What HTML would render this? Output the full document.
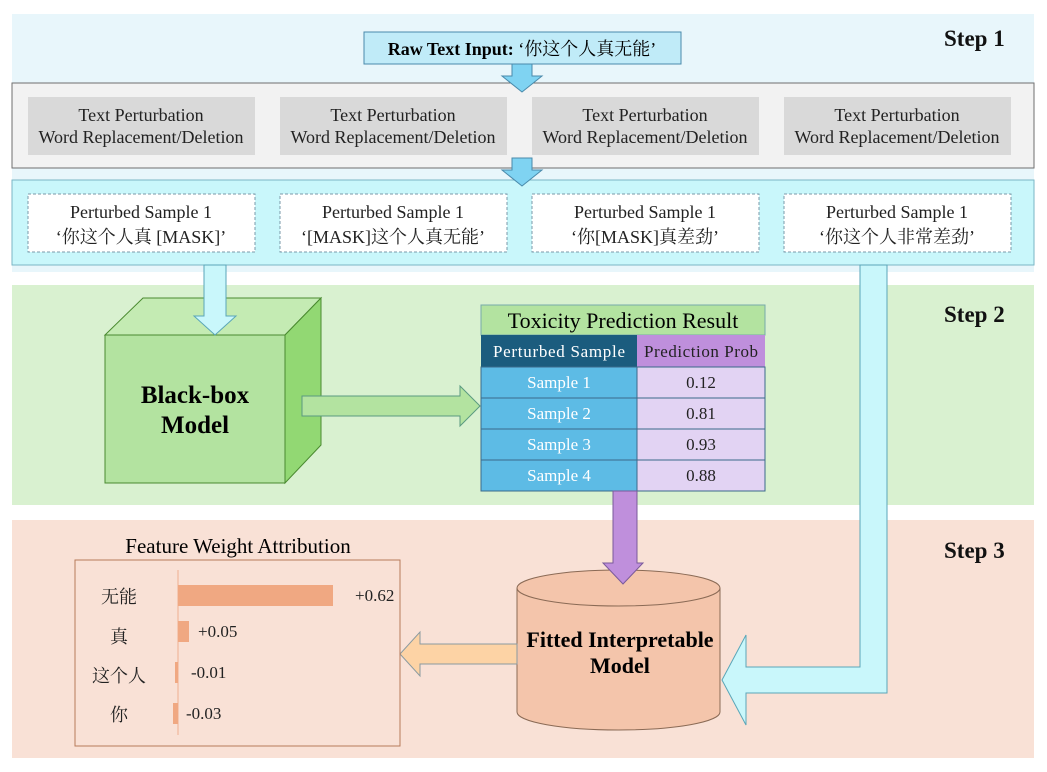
<!DOCTYPE html>
<html><head><meta charset="utf-8"><style>body{margin:0;background:#fff}svg{display:block}</style></head><body>
<svg width="1047" height="772" viewBox="0 0 1047 772" xmlns="http://www.w3.org/2000/svg" font-family="'Liberation Serif','Noto Serif CJK SC','Noto Sans CJK SC',serif">
<rect x="12" y="14" width="1022" height="258" fill="#e8f6fb"/>
<rect x="12" y="285" width="1022" height="220" fill="#d9f1d0"/>
<rect x="12" y="520" width="1022" height="238" fill="#f9e1d6"/>
<g font-weight="bold" font-size="23" fill="#111"><text x="944" y="46">Step 1</text><text x="944" y="322">Step 2</text><text x="944" y="558">Step 3</text></g>
<rect x="12" y="83" width="1022" height="85" fill="#f2f2f2" stroke="#6f6f6f"/>
<rect x="12" y="180" width="1022" height="85" fill="#c9f7fb" stroke="#7ab6c4"/>
<rect x="364" y="32" width="317" height="32" fill="#c0ebf8" stroke="#4a8aab"/>
<text x="522" y="55" text-anchor="middle" font-size="18"><tspan font-weight="bold">Raw Text Input: </tspan>‘你这个人真无能’</text>
<polygon points="512,64 532,64 532,76 542,76 522,92 502,76 512,76" fill="#7fd3f2" stroke="#4a8aab"/>
<polygon points="512,158 532,158 532,170 542,170 522,186 502,170 512,170" fill="#7fd3f2" stroke="#4a8aab"/>
<g font-size="18" text-anchor="middle" fill="#222">
<rect x="28" y="97" width="227" height="58" fill="#d9d9d9"/><rect x="280" y="97" width="227" height="58" fill="#d9d9d9"/><rect x="532" y="97" width="227" height="58" fill="#d9d9d9"/><rect x="784" y="97" width="227" height="58" fill="#d9d9d9"/>
<text x="141" y="121">Text Perturbation</text><text x="141" y="143">Word Replacement/Deletion</text>
<text x="393" y="121">Text Perturbation</text><text x="393" y="143">Word Replacement/Deletion</text>
<text x="645" y="121">Text Perturbation</text><text x="645" y="143">Word Replacement/Deletion</text>
<text x="897" y="121">Text Perturbation</text><text x="897" y="143">Word Replacement/Deletion</text>
<g fill="#fff" stroke="#7a9aaa" stroke-dasharray="3,2"><rect x="28" y="194" width="227" height="58"/><rect x="280" y="194" width="227" height="58"/><rect x="532" y="194" width="227" height="58"/><rect x="784" y="194" width="227" height="58"/></g>
<text x="141" y="218">Perturbed Sample 1</text><text x="141" y="243">‘你这个人真 [MASK]’</text>
<text x="393" y="218">Perturbed Sample 1</text><text x="393" y="243">‘[MASK]这个人真无能’</text>
<text x="645" y="218">Perturbed Sample 1</text><text x="645" y="243">‘你[MASK]真差劲’</text>
<text x="897" y="218">Perturbed Sample 1</text><text x="897" y="243">‘你这个人非常差劲’</text>
</g>
<polygon points="860,265 887,265 887,693 746,693 746,725 722,680 746,635 746,667 860,667" fill="#c9f7fb" stroke="#5aa6b8"/>
<polygon points="105,335 143,298 321,298 285,335" fill="#c4ebb3" stroke="#4a8a30"/>
<polygon points="285,335 321,298 321,445 285,483" fill="#92d873" stroke="#4a8a30"/>
<rect x="105" y="335" width="180" height="148" fill="#b3e3a0" stroke="#4a8a30"/>
<polygon points="204,265 226,265 226,316 236,316 215,335 194,316 204,316" fill="#c9f7fb" stroke="#5aa6b8"/>
<g font-weight="bold" font-size="25" text-anchor="middle"><text x="195" y="403">Black-box</text><text x="195" y="433">Model</text></g>
<polygon points="302,396 460,396 460,386 480,406 460,426 460,416 302,416" fill="#b3e3a0" stroke="#5a9a80"/>
<rect x="481" y="305" width="284" height="30" fill="#b3e3a0" stroke="#7aa"/>
<text x="623" y="328" text-anchor="middle" font-size="22">Toxicity Prediction Result</text>
<rect x="481" y="335" width="156" height="32" fill="#1b5c7e"/><rect x="637" y="335" width="128" height="32" fill="#bf8fdc"/>
<g font-size="17" text-anchor="middle"><text x="559" y="357" fill="#fff" textLength="132">Perturbed Sample</text><text x="701" y="357" fill="#222" textLength="114">Prediction Prob</text></g>
<g stroke="#3a6a8a"><rect x="481" y="367" width="156" height="31" fill="#5dbbe5"/><rect x="637" y="367" width="128" height="31" fill="#e2d3f3"/>
<rect x="481" y="398" width="156" height="31" fill="#5dbbe5"/><rect x="637" y="398" width="128" height="31" fill="#e2d3f3"/>
<rect x="481" y="429" width="156" height="31" fill="#5dbbe5"/><rect x="637" y="429" width="128" height="31" fill="#e2d3f3"/>
<rect x="481" y="460" width="156" height="31" fill="#5dbbe5"/><rect x="637" y="460" width="128" height="31" fill="#e2d3f3"/></g>
<g font-size="17" text-anchor="middle"><g fill="#fff"><text x="559" y="388">Sample 1</text><text x="559" y="419">Sample 2</text><text x="559" y="450">Sample 3</text><text x="559" y="481">Sample 4</text></g>
<g fill="#222"><text x="701" y="388">0.12</text><text x="701" y="419">0.81</text><text x="701" y="450">0.93</text><text x="701" y="481">0.88</text></g></g>
<path d="M517,588 L517,712 A101.5,18 0 0 0 720,712 L720,588" fill="#f4c5ab" stroke="#8a6a55"/>
<ellipse cx="618.5" cy="588" rx="101.5" ry="18" fill="#f4c5ab" stroke="#8a6a55"/>
<polygon points="613,491 637,491 637,563 643,563 623,584 603,563 613,563" fill="#bf8fdc" stroke="#7a5a9a"/>
<g font-weight="bold" font-size="22" text-anchor="middle"><text x="620" y="647">Fitted Interpretable</text><text x="620" y="673">Model</text></g>
<polygon points="517,644 420,644 420,632 400,654 420,676 420,664 517,664" fill="#fdd3a5" stroke="#8a9aa0"/>
<text x="238" y="553" text-anchor="middle" font-size="21">Feature Weight Attribution</text>
<rect x="75" y="560" width="325" height="186" fill="none" stroke="#b87a5a"/>
<line x1="178" y1="570" x2="178" y2="735" stroke="#f0b090"/>
<g fill="#f0a882"><rect x="178" y="585" width="155" height="21"/><rect x="178" y="621" width="11" height="21"/><rect x="175" y="662" width="3" height="21"/><rect x="173" y="703" width="5" height="21"/></g>
<g font-size="18" fill="#222"><text x="119" y="603" text-anchor="middle">无能</text><text x="119" y="643" text-anchor="middle">真</text><text x="119" y="682" text-anchor="middle">这个人</text><text x="119" y="721" text-anchor="middle">你</text>
<g font-size="17"><text x="355" y="601">+0.62</text><text x="198" y="637">+0.05</text><text x="191" y="678">-0.01</text><text x="186" y="719">-0.03</text></g></g>
</svg>
</body></html>
